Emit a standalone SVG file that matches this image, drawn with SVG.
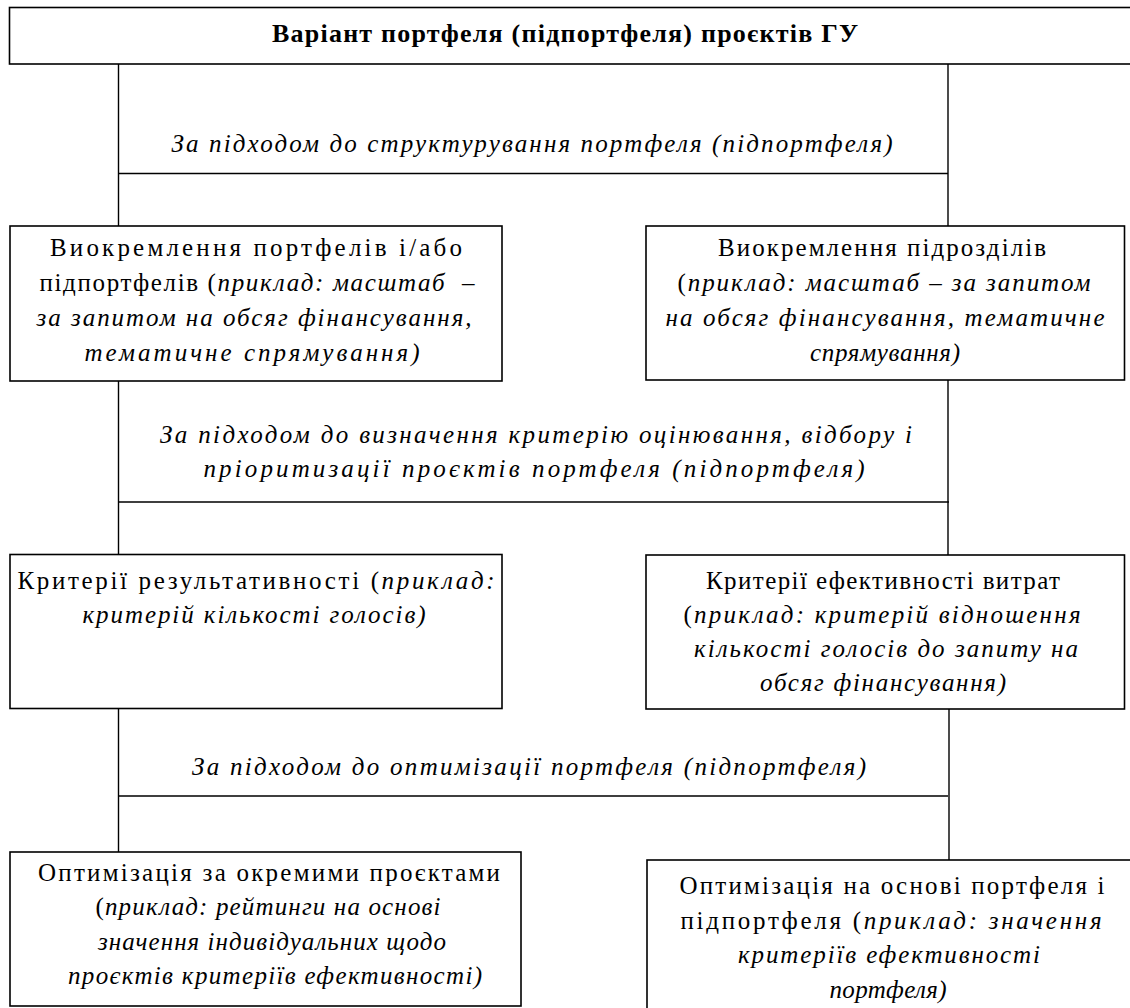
<svg xmlns="http://www.w3.org/2000/svg" width="1130" height="1008" viewBox="0 0 1130 1008">
<style>
.box{fill:#fff;stroke:#000;stroke-width:1.6}
.ln{fill:none;stroke:#000;stroke-width:1.4}
.t{font-family:"Liberation Serif","Times New Roman",serif;font-size:25px;fill:#000;text-anchor:middle}
.i{font-style:italic}
.lab{font-family:"Liberation Serif","Times New Roman",serif;font-size:25px;font-style:italic;fill:#000;text-anchor:middle}
.title{font-family:"Liberation Serif","Times New Roman",serif;font-size:26px;font-weight:bold;fill:#000;text-anchor:middle}
</style>
<rect width="1130" height="1008" fill="#fff"/>
<g id="connectors">
<path class="ln" d="M118.5 64V227M948 64V227M118.5 173.5H948"/>
<path class="ln" d="M118.5 381V555M948 380V555M118.5 502H949"/>
<path class="ln" d="M118.5 709V852M949 709V860M118.5 796H948"/>
</g>
<g id="labels">
<text class="lab" x="532" y="152" textLength="721" lengthAdjust="spacing">За підходом до структурування портфеля (підпортфеля)</text>
<text class="lab" x="536" y="443" textLength="752" lengthAdjust="spacing">За підходом до визначення критерію оцінювання, відбору і</text>
<text class="lab" x="534" y="477" textLength="661" lengthAdjust="spacing">пріоритизації проєктів портфеля (підпортфеля)</text>
<text class="lab" x="529" y="775" textLength="674" lengthAdjust="spacing">За підходом до оптимізації портфеля (підпортфеля)</text>
</g>
<g id="n0">
<rect class="box" x="9.5" y="7.5" width="1130" height="56.5"/>
<text class="title" x="565" y="42" textLength="586" lengthAdjust="spacing">Варіант портфеля (підпортфеля) проєктів ГУ</text>
</g>
<g id="n1">
<rect class="box" x="10" y="226" width="492" height="155"/>
<text class="t" x="256" y="256" textLength="412" lengthAdjust="spacing">Виокремлення портфелів і/або</text>
<text class="t" x="257" y="291" textLength="435" lengthAdjust="spacing">підпортфелів (<tspan class="i">приклад: масштаб &#160;–</tspan></text>
<text class="t i" x="254" y="326" textLength="435" lengthAdjust="spacing">за запитом на обсяг фінансування,</text>
<text class="t i" x="252" y="361" textLength="335" lengthAdjust="spacing">тематичне спрямування)</text>
</g>
<g id="n2">
<rect class="box" x="646" y="226" width="478.5" height="154"/>
<text class="t" x="882" y="256" textLength="328" lengthAdjust="spacing">Виокремлення підрозділів</text>
<text class="t" x="884" y="291" textLength="413" lengthAdjust="spacing">(<tspan class="i">приклад: масштаб – за запитом</tspan></text>
<text class="t i" x="885" y="326" textLength="439" lengthAdjust="spacing">на обсяг фінансування, тематичне</text>
<text class="t i" x="885" y="361" textLength="150" lengthAdjust="spacing">спрямування)</text>
</g>
<g id="n3">
<rect class="box" x="10" y="554.5" width="492" height="154"/>
<text class="t" x="256" y="589" textLength="477" lengthAdjust="spacing">Критерії результативності (<tspan class="i">приклад:</tspan></text>
<text class="t i" x="254" y="623" textLength="343" lengthAdjust="spacing">критерій кількості голосів)</text>
</g>
<g id="n4">
<rect class="box" x="646" y="555" width="478.5" height="154"/>
<text class="t" x="883" y="589" textLength="354" lengthAdjust="spacing">Критерії ефективності витрат</text>
<text class="t" x="882" y="623" textLength="397" lengthAdjust="spacing">(<tspan class="i">приклад: критерій відношення</tspan></text>
<text class="t i" x="886" y="657" textLength="384" lengthAdjust="spacing">кількості голосів до запиту на</text>
<text class="t i" x="883" y="691" textLength="246" lengthAdjust="spacing">обсяг фінансування)</text>
</g>
<g id="n5">
<rect class="box" x="10" y="852" width="511" height="154"/>
<text class="t" x="269" y="881" textLength="462" lengthAdjust="spacing">Оптимізація за окремими проєктами</text>
<text class="t" x="268" y="915" textLength="345" lengthAdjust="spacing">(<tspan class="i">приклад: рейтинги на основі</tspan></text>
<text class="t i" x="272" y="950" textLength="348" lengthAdjust="spacing">значення індивідуальних щодо</text>
<text class="t i" x="275" y="984" textLength="414" lengthAdjust="spacing">проєктів критеріїв ефективності)</text>
</g>
<g id="n6">
<rect class="box" x="647" y="860" width="500" height="160"/>
<text class="t" x="892" y="894" textLength="425" lengthAdjust="spacing">Оптимізація на основі портфеля і</text>
<text class="t" x="891" y="929" textLength="421" lengthAdjust="spacing">підпортфеля (<tspan class="i">приклад: значення</tspan></text>
<text class="t i" x="889" y="963" textLength="302" lengthAdjust="spacing">критеріїв ефективності</text>
<text class="t i" x="888" y="998" textLength="117" lengthAdjust="spacing">портфеля)</text>
</g>
</svg>
